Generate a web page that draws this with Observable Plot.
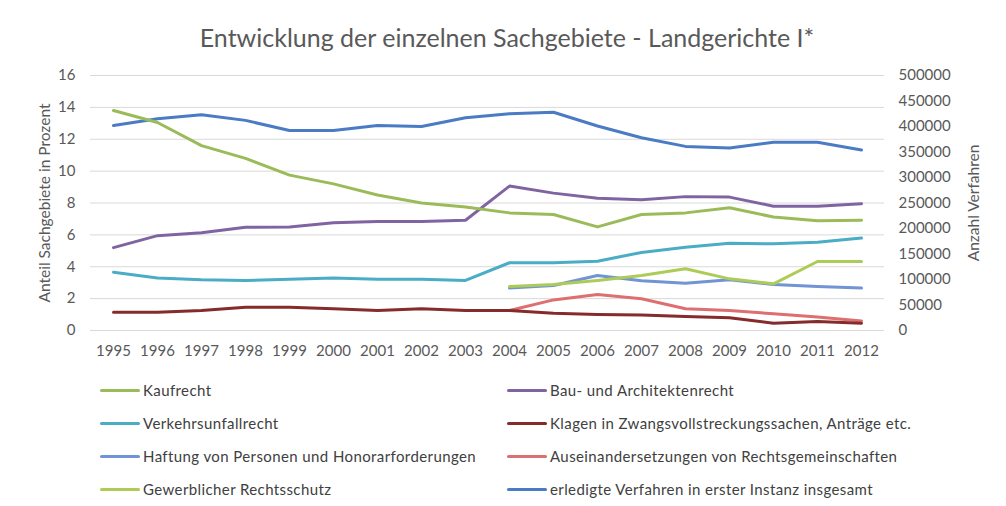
<!DOCTYPE html>
<html>
<head>
<meta charset="utf-8">
<script src="https://cdn.jsdelivr.net/npm/d3@7"></script>
<script src="https://cdn.jsdelivr.net/npm/@observablehq/plot@0.6"></script>
<style>
  html, body { margin: 0; padding: 0; background: #fff; }
  body { width: 1006px; height: 506px; overflow: hidden; font-family: Lato, "Open Sans", sans-serif; }
  #title { height: 60px; line-height: 74px; text-align: center; font-size: 25px; color: #595959; padding-left: 8px; }
  #chart { height: 310px; }
  #legend { position: relative; height: 136px; }
  .item { position: absolute; height: 20px; display: flex; align-items: center; font-size: 15px; letter-spacing: 0.4px; color: #404040; white-space: nowrap; }
  .sw { width: 40px; height: 3px; border-radius: 2px; margin-right: 3px; }
</style>
</head>
<body>
<div id="title">Entwicklung der einzelnen Sachgebiete - Landgerichte I*</div>
<div id="chart"></div>
<div id="legend"></div>
<script>
const years = ["1995","1996","1997","1998","1999","2000","2001","2002","2003","2004","2005","2006","2007","2008","2009","2010","2011","2012"];

const seriesNames = [
  "Kaufrecht",
  "Bau- und Architektenrecht",
  "Verkehrsunfallrecht",
  "Klagen in Zwangsvollstreckungssachen, Anträge etc.",
  "Haftung von Personen und Honorarforderungen",
  "Auseinandersetzungen von Rechtsgemeinschaften",
  "Gewerblicher Rechtsschutz",
  "erledigte Verfahren in erster Instanz insgesamt"
];
const seriesColors = ["#9BBB59", "#8064A2", "#4BACC6", "#862B2B", "#7094D4", "#DD6F70", "#AECB58", "#4A7BC4"];

// percent shares (left axis), null = no data
const kaufrecht = [13.8, 13.05, 11.6, 10.8, 9.75, 9.2, 8.5, 8.0, 7.75, 7.38, 7.28, 6.5, 7.28, 7.38, 7.7, 7.12, 6.88, 6.92];
const bauArchitekten = [5.2, 5.95, 6.13, 6.48, 6.5, 6.76, 6.84, 6.84, 6.92, 9.06, 8.62, 8.3, 8.2, 8.4, 8.37, 7.8, 7.8, 7.96];
const verkehrsunfall = [3.66, 3.3, 3.18, 3.14, 3.22, 3.3, 3.22, 3.22, 3.14, 4.25, 4.25, 4.35, 4.9, 5.23, 5.48, 5.44, 5.54, 5.8];
const zwangsvollstreckung = [1.15, 1.15, 1.26, 1.46, 1.46, 1.36, 1.26, 1.36, 1.26, 1.26, 1.08, 1.0, 0.98, 0.88, 0.8, 0.46, 0.56, 0.46];
const haftung = [null, null, null, null, null, null, null, null, null, 2.66, 2.82, 3.45, 3.12, 2.97, 3.18, 2.89, 2.76, 2.66];
const auseinandersetzung = [null, null, null, null, null, null, null, null, null, 1.26, 1.92, 2.26, 1.99, 1.36, 1.26, 1.05, 0.84, 0.6];
const gewerblich = [null, null, null, null, null, null, null, null, null, 2.76, 2.89, 3.14, 3.45, 3.87, 3.24, 2.93, 4.33, 4.33];
// number of proceedings (right axis)
const erledigt = [402000, 415000, 423000, 412000, 392000, 392000, 402000, 400000, 417000, 425000, 428000, 401000, 378000, 361000, 358000, 369000, 369000, 354000];

const leftMax = 16;
const rightMax = 500000;
const rightTicks = [0, 50000, 100000, 150000, 200000, 250000, 300000, 350000, 400000, 450000, 500000];
const leftTicks = [0, 2, 4, 6, 8, 10, 12, 14, 16];

const percentSeries = [kaufrecht, bauArchitekten, verkehrsunfall, zwangsvollstreckung, haftung, auseinandersetzung, gewerblich];
const rows = [];
percentSeries.forEach((arr, i) => {
  arr.forEach((v, j) => { if (v != null) rows.push({series: seriesNames[i], year: years[j], value: v}); });
});
erledigt.forEach((v, j) => rows.push({series: seriesNames[7], year: years[j], value: v * leftMax / rightMax}));

const drawOrder = [7, 1, 0, 2, 4, 6, 5, 3].map(i => seriesNames[i]);

const plot = Plot.plot({
  width: 1006,
  height: 310,
  marginLeft: 90,
  marginRight: 122,
  marginTop: 15,
  marginBottom: 40,
  style: {fontFamily: "Lato, 'Open Sans', sans-serif", fontSize: "15px", color: "#595959", background: "#fff"},
  x: {type: "point", domain: years, padding: 0.5},
  y: {domain: [0, leftMax]},
  color: {domain: seriesNames, range: seriesColors},
  marks: [
    Plot.gridY(leftTicks, {stroke: "#d9d9d9", strokeOpacity: 1, strokeWidth: 1}),
    Plot.axisX({tickSize: 0, tickPadding: 15, label: null, fontSize: 15}),
    Plot.axisY(leftTicks, {anchor: "left", tickSize: 0, tickPadding: 15, fontSize: 15, label: null}),
    Plot.axisY(rightTicks.map(t => t * leftMax / rightMax), {anchor: "right", tickSize: 0, tickPadding: 14, fontSize: 15, tickFormat: d => String(Math.round(d * rightMax / leftMax)), label: null, textAnchor: "start"}),
    ...drawOrder.map(name => Plot.line(rows.filter(r => r.series === name), {x: "year", y: "value", stroke: "series", strokeWidth: 3, strokeLinecap: "round", strokeLinejoin: "round"})),
    Plot.text(["Anteil Sachgebiete in Prozent"], {frameAnchor: "middle", dx: -442, rotate: -90, fontSize: 15.5, fill: "#595959"}),
    Plot.text(["Anzahl Verfahren"], {frameAnchor: "middle", dx: 487, rotate: -90, fontSize: 15.5, fill: "#595959"})
  ]
});
document.getElementById("chart").appendChild(plot);

const legend = document.getElementById("legend");
const legendPos = [
  [0, 100, 10], [1, 507, 10],
  [2, 100, 43], [3, 507, 43],
  [4, 100, 76], [5, 507, 76],
  [6, 100, 109], [7, 507, 109]
];
legendPos.forEach(([i, x, y]) => {
  const d = document.createElement("div");
  d.className = "item";
  d.style.left = x + "px";
  d.style.top = y + "px";
  const sw = document.createElement("span");
  sw.className = "sw";
  sw.style.background = seriesColors[i];
  d.appendChild(sw);
  d.appendChild(document.createTextNode(seriesNames[i]));
  legend.appendChild(d);
});
</script>
</body>
</html>
